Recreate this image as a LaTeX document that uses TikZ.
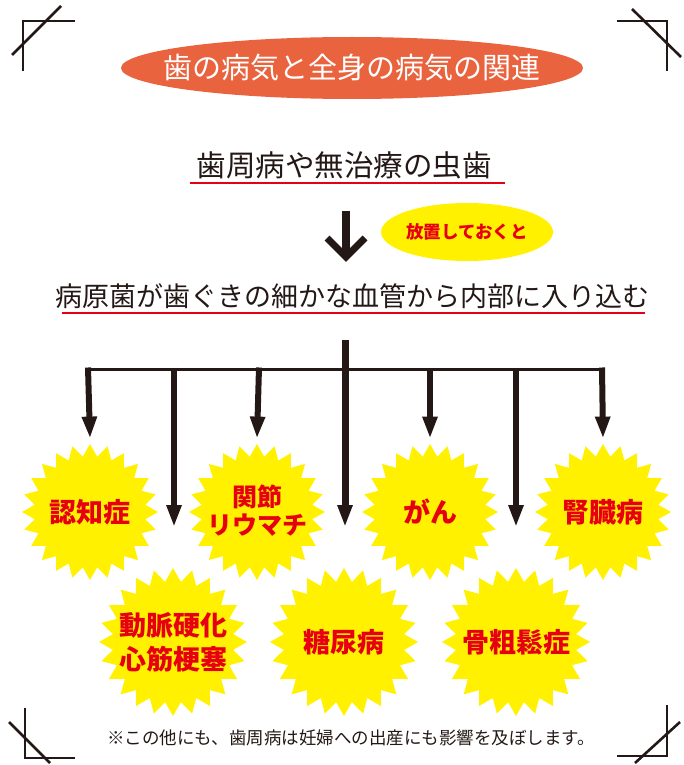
\documentclass[tikz,border=0pt]{standalone}
\usepackage{fontspec}
\setmainfont{Noto Sans CJK JP}
\usetikzlibrary{shapes.geometric,arrows.meta}
\definecolor{myorange}{HTML}{E9633F}
\definecolor{myyellow}{HTML}{FFF100}
\definecolor{myred}{HTML}{E60012}
\definecolor{myblack}{HTML}{231815}
\tikzset{
  burst/.style={star, star points=24, star point ratio=1.22, fill=myyellow, draw=none,
    minimum size=136pt, inner sep=0pt},
  bigburst/.style={burst, minimum size=148pt},
  dtext/.style={text=myred, align=center, inner sep=0pt,
    font=\bfseries\fontsize{27}{30}\selectfont},
  stem/.style={line width=6pt, draw=myblack},
  arr/.style={stem, -{Triangle[length=22pt,width=14pt]}},
  redline/.style={draw=myred, line width=2.4pt},
  corner/.style={draw=myblack, line width=2.6pt},
  heading/.style={text=myblack, inner sep=0pt},
  oval/.style={ellipse, inner sep=0pt, draw=none}
}
\begin{document}
\begin{tikzpicture}[x=1pt,y=-1pt]
\useasboundingbox (0,0) rectangle (684,765);
% corner marks
\draw[corner] (75,21) -- (23,21) -- (23,71);
\draw[corner] (12,55) -- (61,6);
\draw[corner] (617,21) -- (667,21) -- (667,71);
\draw[corner] (632,9) -- (681,57);
\draw[corner] (25,708) -- (25,758) -- (75,758);
\draw[corner] (9,722) -- (50,763);
\draw[corner] (667,705) -- (667,756) -- (617,756);
\draw[corner] (635,763) -- (680,722);
% title
\node[oval, fill=myorange, minimum width=462pt, minimum height=62pt] (titlebg) at (352,68) {};
\node[heading, text=white, font=\fontsize{29}{32}\selectfont] (title) at (titlebg) {歯の病気と全身の病気の関連};
% heading 1
\node[heading, font=\fontsize{29.5}{32}\selectfont] (h1) at (344,165) {歯周病や無治療の虫歯};
\coordinate (u1a) at (190,183); \coordinate (u1b) at (505,183);
\draw[redline] (u1a) -- (u1b);
% down arrow
\coordinate (da) at (346,211); \coordinate (db) at (346,254);
\coordinate (dl) at (327,238); \coordinate (dr) at (365,238); \coordinate (dt) at (346,257);
\draw[myblack, line width=7.5pt] (da) -- (db);
\draw[myblack, line width=7pt, miter limit=10] (dl) -- (dt) -- (dr);
% leave it
\node[oval, fill=myyellow, minimum width=172pt, minimum height=58pt] (leavebg) at (467,232) {};
\node[heading, text=myred, font=\bfseries\fontsize{17.5}{20}\selectfont] (leave) at (leavebg) {放置しておくと};
% heading 2
\node[heading, font=\fontsize{27}{30}\selectfont] (h2) at (352,296) {病原菌が歯ぐきの細かな血管から内部に入り込む};
\coordinate (u2a) at (62,313); \coordinate (u2b) at (645,313);
\draw[redline] (u2a) -- (u2b);
% bursts
\node[burst] (s1) at (90,512) {};
\node[burst] (s2) at (257,512) {};
\node[burst] (s3) at (430,512) {};
\node[burst] (s4) at (603,512) {};
\node[bigburst] (s5) at (173,642) {};
\node[bigburst] (s6) at (344,642) {};
\node[bigburst] (s7) at (516,642) {};
\node[dtext] (t1) at (s1) {認知症};
\node[dtext, font=\bfseries\fontsize{25}{28}\selectfont] (t2) at ([yshift=1pt]s2) {関節\\リウマチ};
\node[dtext] (t3) at (s3) {がん};
\node[dtext] (t4) at (s4) {腎臓病};
\node[dtext, font=\bfseries\fontsize{27}{34}\selectfont] (t5) at (s5) {動脈硬化\\心筋梗塞};
\node[dtext] (t6) at (s6) {糖尿病};
\node[dtext] (t7) at (s7) {骨粗鬆症};
% distribution
\coordinate (top) at (345,340);
\coordinate (b1) at (88,369); \coordinate (b2) at (174,369); \coordinate (b3) at (259,369);
\coordinate (b4) at (345,369); \coordinate (b5) at (430,369); \coordinate (b6) at (516,369);
\coordinate (b7) at (602,369);
\coordinate (e2) at (174,527); \coordinate (e4) at (345,527); \coordinate (e6) at (516,527);
\draw[myblack, line width=3pt] ([xshift=-3pt]b1) -- ([xshift=3pt]b7);
\draw[arr] ([yshift=1.5pt]b1) -- ([yshift=5pt]s1.north);
\draw[arr] ([yshift=1.5pt]b3) -- ([yshift=5pt]s2.north);
\draw[arr] ([yshift=1.5pt]b5) -- ([yshift=5pt]s3.north);
\draw[arr] ([yshift=1.5pt]b7) -- ([yshift=5pt]s4.north);
\draw[arr] ([yshift=1.5pt]b2) -- (e2);
\draw[arr] ([yshift=1.5pt]b6) -- (e6);
\draw[arr, line width=7pt] (top) -- (e4);
% note
\node[heading, font=\fontsize{17.5}{20}\selectfont] (note) at (351,738) {※この他にも、歯周病は妊婦への出産にも影響を及ぼします。};
\end{tikzpicture}
\end{document}
